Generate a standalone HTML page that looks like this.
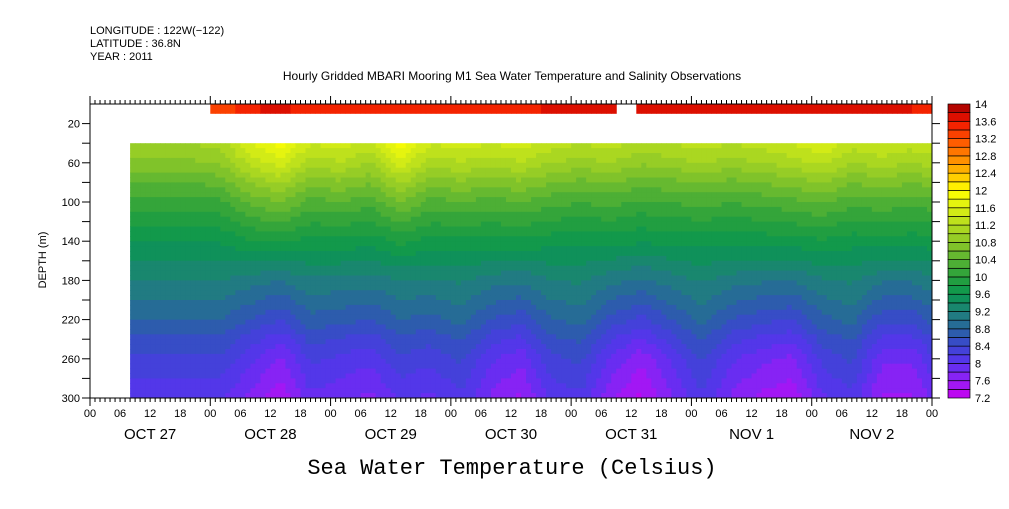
<!DOCTYPE html>
<html><head><meta charset="utf-8">
<style>
body{margin:0;background:#fff;width:1009px;height:504px;overflow:hidden}
svg text{font-family:"Liberation Sans",sans-serif;fill:#000}
</style></head>
<body>
<svg id="chart" width="1009" height="504" xmlns="http://www.w3.org/2000/svg">
<text x="90" y="34" font-size="11">LONGITUDE : 122W(−122)</text>
<text x="90" y="47" font-size="11">LATITUDE : 36.8N</text>
<text x="90" y="60" font-size="11">YEAR : 2011</text>
<text x="512" y="80" font-size="12" text-anchor="middle">Hourly Gridded MBARI Mooring M1 Sea Water Temperature and Salinity Observations</text>
<text x="0" y="0" font-size="11" text-anchor="middle" transform="translate(46,260) rotate(-90)">DEPTH (m)</text>
<text x="512" y="474" font-size="22" text-anchor="middle" style="font-family:'Liberation Mono',monospace">Sea Water Temperature (Celsius)</text>
<g id="cells"></g>
<g id="axes"></g>
<g id="cbar"></g>
</svg>
<script>
// ---- data ----
const depthLevels=[40,60,80,100,120,140,160,180,200,220,240,260,280,300];
const baseProfile=[11.0,10.75,10.4,10.1,9.85,9.6,9.4,9.2,9.0,8.8,8.55,8.35,8.2,8.05];
const anomHours=[8,14,20,26,32,38,44,50,56,62,68,74,80,86,92,98,104,110,116,122,128,134,140,146,152,158,164,168];
const upperAnom=[0,0,0,0.1,0.6,0.9,0.4,0.5,0.3,0.9,0.4,0.5,0.4,0.5,0.3,0.2,0.3,0.1,0.2,0.3,0.2,0.3,0.4,0.6,0.3,0.4,0.3,0.4];
const lowerAnom=[0,0,0,0,-0.3,-0.6,-0.1,-0.2,-0.3,0,-0.1,0.1,-0.3,-0.5,0,0.1,-0.4,-0.7,-0.3,0.1,-0.3,-0.5,-0.6,-0.1,0.1,-0.5,-0.5,-0.2];
const surfHours=[24,36,48,60,72,84,96,104,109,120,132,144,156,168];
const surfTemp=[13.2,13.7,13.4,13.4,13.5,13.5,13.7,13.6,13.7,13.8,13.7,13.6,13.8,13.5];
const hourLabels=["00","06","12","18"];
const dayLabels=["OCT 27","OCT 28","OCT 29","OCT 30","OCT 31","NOV  1","NOV  2"];
const depthTicks=[20,60,100,140,180,220,260,300];
const cbarLabels=["7.2","7.6","8","8.4","8.8","9.2","9.6","10","10.4","10.8","11.2","11.6","12","12.4","12.8","13.2","13.6","14"];
// ---- scales ----
const X0=90,X1=932,Y0=104,Y1=398;
const xs=h=>X0+(X1-X0)*h/168;
const ys=d=>Y0+(Y1-Y0)*d/300;
const NS='http://www.w3.org/2000/svg';
function mk(t,a,p){const e=document.createElementNS(NS,t);for(const k in a)e.setAttribute(k,a[k]);(p||document.getElementById('chart')).appendChild(e);return e;}
const stops=[[7.2,[200,0,240]],[7.6,[150,30,245]],[8.0,[90,50,240]],[8.4,[60,70,210]],[8.8,[40,100,160]],[9.2,[30,130,120]],[9.6,[10,150,80]],[10.0,[40,160,60]],[10.4,[90,180,50]],[10.8,[140,200,40]],[11.2,[180,220,30]],[11.6,[220,240,20]],[12.0,[255,255,0]],[12.4,[255,190,0]],[12.8,[255,130,0]],[13.2,[255,80,0]],[13.6,[240,20,0]],[14.0,[160,0,0]]];
function col(v){v=Math.max(7.2,Math.min(13.99,v));v=7.2+0.2*Math.floor((v-7.2)/0.2)+0.1;
 for(let i=0;i<stops.length-1;i++){if(v<=stops[i+1][0]){const t=(v-stops[i][0])/(stops[i+1][0]-stops[i][0]);const a=stops[i][1],b=stops[i+1][1];return `rgb(${a.map((c,j)=>Math.round(c+(b[j]-c)*t)).join(',')})`;}}return 'rgb(160,0,0)';}
function interp(xa,ya,x){if(x<=xa[0])return ya[0];for(let i=0;i<xa.length-1;i++)if(x<=xa[i+1]){const t=(x-xa[i])/(xa[i+1]-xa[i]);return ya[i]+(ya[i+1]-ya[i])*t;}return ya[ya.length-1];}
const g=document.getElementById('cells');
const dh=1,dd=5;
for(let h=anomHours[0];h<168;h+=dh){
 const ua=interp(anomHours,upperAnom,h+dh/2),la=interp(anomHours,lowerAnom,h+dh/2);
 for(let d=40;d<300;d+=dd){
  const dm=d+dd/2;
  const wu=Math.max(0,1-(dm-40)/140),wl=Math.min(1,Math.max(0,(dm-140)/120));
  const v=interp(depthLevels,baseProfile,dm)+ua*wu+la*wl;
  const r=mk('rect',{x:xs(h),y:ys(d),width:xs(h+dh)-xs(h)+0.5,height:ys(d+dd)-ys(d)+0.5,fill:col(v)},g);
  
  
 }
}
for(let h=surfHours[0];h<168;h+=dh){
 if(h>=105&&h<109)continue;
 const v=interp(surfHours,surfTemp,h+0.5);
 const r=mk('rect',{x:xs(h),y:ys(0),width:xs(h+dh)-xs(h)+0.5,height:ys(10)-ys(0),fill:col(v)},g);
 
 
}
// axes
const ax=document.getElementById('axes');
mk('rect',{x:X0,y:Y0,width:X1-X0,height:Y1-Y0,fill:'none',stroke:'#000','stroke-width':1},ax);
for(let h=0;h<=168;h++){
 const x=xs(h),L=h%24==0?8:4;
 mk('line',{x1:x,x2:x,y1:Y0,y2:Y0-L,stroke:'#000'},ax);
 mk('line',{x1:x,x2:x,y1:Y1,y2:Y1+L,stroke:'#000'},ax);
 if(h%6==0){const t=mk('text',{x:x,y:417,'font-size':11,'text-anchor':'middle'},ax);t.textContent=hourLabels[(h/6)%4];
  }
}
dayLabels.forEach((s,i)=>{const t=mk('text',{x:xs(i*24+12),y:439,'font-size':15,'text-anchor':'middle'},ax);t.textContent=s;
 });
for(let d=20;d<=300;d+=20){const y=ys(d);
 mk('line',{x1:X0,x2:X0-8,y1:y,y2:y,stroke:'#000'},ax);
 mk('line',{x1:X1,x2:X1+8,y1:y,y2:y,stroke:'#000'},ax);}
depthTicks.forEach(d=>{const t=mk('text',{x:80,y:ys(d)+4,'font-size':11,'text-anchor':'end'},ax);t.textContent=d;
 });
// colorbar
const cb=document.getElementById('cbar');
const CB0=104,CB1=398,n=34;
for(let i=0;i<n;i++){const v=7.2+0.2*i+0.1;const y=CB1-(i+1)*(CB1-CB0)/n;
 const r=mk('rect',{x:948,y:y,width:22,height:(CB1-CB0)/n,fill:col(v),stroke:'#000','stroke-width':0.7},cb);
 }
cbarLabels.forEach((s,i)=>{const y=CB1-i*2*(CB1-CB0)/n;const t=mk('text',{x:975,y:y+4,'font-size':11},cb);t.textContent=s;
 });
</script>
</body></html>
